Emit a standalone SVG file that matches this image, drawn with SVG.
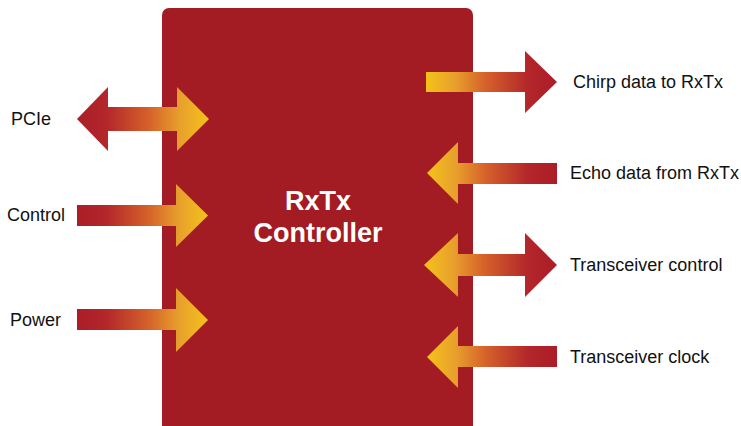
<svg xmlns="http://www.w3.org/2000/svg" width="741" height="426" viewBox="0 0 741 426">
<defs>
<linearGradient id="gR" x1="0" y1="0" x2="1" y2="0">
<stop offset="0" stop-color="#AC1D27"/>
<stop offset="0.22" stop-color="#B3262A"/>
<stop offset="0.55" stop-color="#D6622A"/>
<stop offset="0.78" stop-color="#E8A02C"/>
<stop offset="1" stop-color="#F4C21A"/>
</linearGradient>
<linearGradient id="gL" x1="1" y1="0" x2="0" y2="0">
<stop offset="0" stop-color="#AC1D27"/>
<stop offset="0.22" stop-color="#B3262A"/>
<stop offset="0.55" stop-color="#D6622A"/>
<stop offset="0.78" stop-color="#E8A02C"/>
<stop offset="1" stop-color="#F4C21A"/>
</linearGradient>
<style>
.lbl{font-family:"Liberation Sans",Arial,sans-serif;font-size:18px;fill:#111111}
.ttl{font-family:"Liberation Sans",Arial,sans-serif;font-size:27px;font-weight:bold;fill:#ffffff;text-anchor:middle}
.ar{fill:url(#gR)}
.al{fill:url(#gL)}
</style>
</defs>
<g id="controller">
<rect x="162" y="8" width="311" height="440" rx="7" fill="#A31B23"/>
<text class="ttl" x="318" y="210">RxTx</text>
<text class="ttl" x="318" y="242">Controller</text>
</g>
<g id="connectors">
<polygon id="pcie-arrow" class="ar" points="77,119 108,87 108,107 177,107 177,87 209,119 177,151 177,131 108,131 108,151"/>
<polygon id="control-arrow" class="ar" points="77,205 176,205 176,184 208,215.5 176,247 176,226 77,226"/>
<polygon id="power-arrow" class="ar" points="77,309 176,309 176,288 208,320 176,352 176,330 77,330"/>
<polygon id="chirp-arrow" class="al" points="426,72 525,72 525,51 557,82 525,113 525,92 426,92"/>
<polygon id="echo-arrow" class="al" points="427,173 458,142 458,163 557,163 557,184 458,184 458,204"/>
<polygon id="tctrl-arrow" class="al" points="424,265 458,233 458,254 525,254 525,233 557,265 525,297 525,276 458,276 458,297"/>
<polygon id="tclk-arrow" class="al" points="427,357 458,326 458,346 557,346 557,367 458,367 458,388"/>
</g>
<g id="pcie"><text class="lbl" x="11" y="125">PCIe</text></g>
<g id="control"><text class="lbl" x="7" y="221">Control</text></g>
<g id="power"><text class="lbl" x="10" y="326">Power</text></g>
<g id="chirp"><text class="lbl" x="573" y="88">Chirp data to RxTx</text></g>
<g id="echo"><text class="lbl" x="570" y="179">Echo data from RxTx</text></g>
<g id="tctrl"><text class="lbl" x="570" y="271">Transceiver control</text></g>
<g id="tclk"><text class="lbl" x="570" y="363">Transceiver clock</text></g>
</svg>
